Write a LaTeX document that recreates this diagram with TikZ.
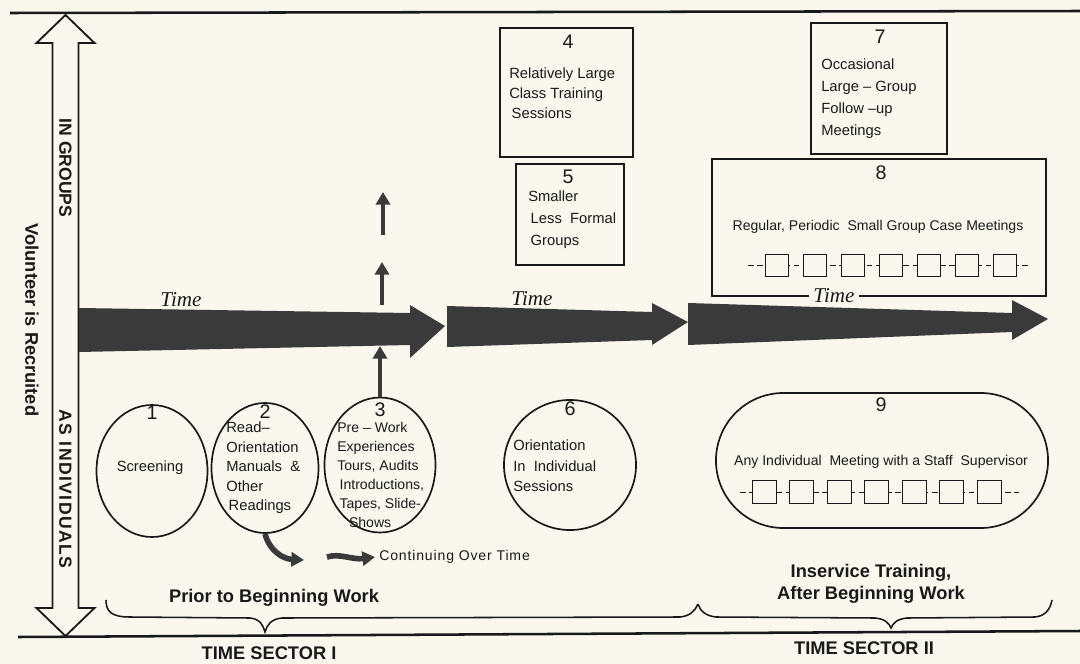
\documentclass[tikz,border=0pt]{standalone}
\usepackage{fontspec}
\setmainfont{Liberation Sans}
\newfontfamily\timefont{Liberation Serif}
\usetikzlibrary{shapes.geometric,shapes.misc,arrows.meta}
\definecolor{bg}{RGB}{250,248,238}
\definecolor{ink}{RGB}{25,25,25}
\definecolor{band}{RGB}{58,58,58}
\begin{document}
\begin{tikzpicture}[x=0.025cm,y=-0.025cm,
  boxst/.style={draw=ink,line width=1.3pt,rectangle,inner sep=0},
  oval/.style={draw=ink,line width=1.2pt,ellipse,inner sep=0},
  num/.style={font=\fontsize{14}{14}\selectfont,text=ink,inner sep=0},
  lbl/.style={font=\fontsize{10.5}{14}\selectfont,align=left,anchor=north west,inner sep=0,text=ink},
  ctr/.style={font=\fontsize{10}{12}\selectfont,inner sep=0,text=ink},
  big/.style={font=\bfseries\fontsize{13}{16}\selectfont,inner sep=0,text=ink,align=center},
  side/.style={font=\bfseries\fontsize{12.5}{14}\selectfont,inner sep=0,text=ink,rotate=-90},
  timelbl/.style={font=\timefont\itshape\fontsize{15}{15}\selectfont,inner sep=1pt,text=ink},
  sq/.style={draw=ink,line width=0.6pt,fill=bg,minimum width=0.6cm,minimum height=0.575cm,inner sep=0},
  chain/.style={draw=ink,line width=0.6pt,dash pattern=on 4pt off 2.5pt},
  upar/.style={draw=band,line width=3.5pt,-{Triangle[length=9pt,width=10pt]}},
  rule/.style={draw=ink,line width=1.8pt},
  brace/.style={draw=ink,line width=1.1pt}]
\fill[bg] (0,0) rectangle (1080,664);
\useasboundingbox (0,0) rectangle (1080,664);

% frame lines
\draw[rule] (10,13) -- (1080,11);
\draw[rule] (18,637) -- (1080,631);

% double arrow (group / individual axis)
\draw[draw=ink,line width=1.3pt,fill=bg] (65.5,15) -- (94.5,43) -- (78.5,43) -- (78.5,608) -- (94.5,608)
  -- (65.5,636) -- (36.5,608) -- (52.5,608) -- (52.5,43) -- (36.5,43) -- cycle;
\node[side] (ingroups) at (65.5,168) {IN GROUPS};
\node[side,font=\bfseries\fontsize{12.5}{14}\selectfont\addfontfeature{LetterSpace=8}] (asind) at (65.5,489) {AS INDIVIDUALS};
\node[side,font=\bfseries\fontsize{13}{14}\selectfont] (vol) at (32,320) {Volunteer is Recruited};

% time arrow
\fill[band] (79,308) -- (410,313) -- (410,305) -- (445,326) -- (410,358) -- (410,345) -- (79,352) -- cycle;
\fill[band] (447,306) -- (652,312) -- (652,303) -- (688,322) -- (652,345) -- (652,340) -- (447,347) -- cycle;
\fill[band] (688,303) -- (1012,313) -- (1012,300) -- (1048,319) -- (1012,340) -- (1012,332) -- (688,345) -- cycle;
\node[timelbl] (time1) at (181,300) {Time};
\node[timelbl] (time2) at (532,299) {Time};

% boxes (in groups)
\node[boxst,minimum width=3.325cm,minimum height=3.225cm] (b4) at (566.5,92.5) {};
\node[num] (n4) at (568,42) {4};
\node[lbl] (t4) at (509,68) {Relatively Large\\Class Training\\\,Sessions};

\node[boxst,minimum width=2.7cm,minimum height=2.525cm] (b5) at (570,214.5) {};
\node[num] (n5) at (568,177) {5};
\node[lbl,font=\fontsize{10.5}{15.5}\selectfont] (t5) at (528,191) {Smaller\\\,Less\ \ Formal\\\,Groups};

\node[boxst,minimum width=3.4cm,minimum height=3.275cm] (b7) at (879,88.5) {};
\node[num] (n7) at (880,37) {7};
\node[lbl,font=\fontsize{10.5}{15.5}\selectfont] (t7) at (821,59) {Occasional\\Large -- Group\\Follow --up\\Meetings};

\node[boxst,minimum width=8.35cm,minimum height=3.425cm] (b8) at (879,227.5) {};
\node[num] (n8) at (881,173) {8};
\node[ctr] (t8) at (878,227) {Regular, Periodic\ \ Small Group Case Meetings};
\draw[chain] (748,265) -- (1031,265);
\foreach \i in {0,...,6} {
  \node[sq,minimum width=0.575cm,minimum height=0.55cm] (q8\i) at (776.5+38*\i,265) {};
}
\node[timelbl,fill=bg,inner xsep=3pt] (time3) at (834,296) {Time};

% ovals (as individuals)
\node[oval,minimum width=2.775cm,minimum height=3.3cm] (e1) at (152,471) {};
\node[num] (n1) at (152,413) {1};
\node[ctr,font=\fontsize{10.5}{12}\selectfont] (t1) at (150,468) {Screening};

\node[oval,minimum width=2.675cm,minimum height=3.25cm] (e2) at (265,468) {};
\node[num] (n2) at (265,412) {2};
\node[lbl,font=\fontsize{10.5}{13.8}\selectfont] (t2) at (226,422) {Read--\\Orientation\\Manuals\ \ \&\\Other\\\,Readings};

\node[oval,minimum width=2.775cm,minimum height=3.375cm] (e3) at (380,465) {};
\node[num] (n3) at (380,410) {3};
\node[lbl,font=\fontsize{10}{13.5}\selectfont] (t3) at (337,422) {Pre -- Work\\Experiences\\Tours, Audits\\\,Introductions,\\\,Tapes, Slide-\\\ \ \ Shows};

\node[oval,minimum width=3.3cm,minimum height=3.25cm] (e6) at (570,465) {};
\node[num] (n6) at (570,409) {6};
\node[lbl,font=\fontsize{10.5}{14.5}\selectfont] (t6) at (513,440) {Orientation\\In\ \ Individual\\Sessions};

\node[draw=ink,line width=1.2pt,rounded rectangle,minimum width=8.3cm,minimum height=3.375cm,inner sep=0] (s9) at (882,460.5) {};
\node[num] (n9) at (881,405) {9};
\node[ctr] (t9) at (881,462) {Any Individual\ \ Meeting with a Staff\ \ Supervisor};
\draw[chain] (740,492) -- (1019,492);
\foreach \i in {0,...,6} {
  \node[sq] (q9\i) at (764+37.5*\i,492) {};
}

% small upward arrows
\coordinate (a1s) at (383,235);
\coordinate (a1e) at (383,192);
\coordinate (a2s) at (382,305);
\coordinate (a2e) at (382,262);
\coordinate (a3e) at (380,346);
\draw[upar] (a1s) -- (a1e);
\draw[upar] (a2s) -- (a2e);
\draw[upar] (e3.north) -- (a3e);

% continuing over time arrows
\coordinate (c1e) at (304,560);
\coordinate (c2s) at (327,557);
\coordinate (c2e) at (375,557);
\draw[upar,line width=4pt] (e2.south) .. controls (270,552) and (284,559) .. (c1e);
\draw[upar,line width=4pt] (c2s) .. controls (340,553) and (352,560) .. (c2e);
\node[ctr,anchor=west,font=\fontsize{10}{12}\selectfont\addfontfeature{LetterSpace=6}] (cont) at (379,557) {Continuing Over Time};

% braces
\draw[brace] (106,600) .. controls (106,612) and (112,617) .. (130,617) -- (250,618)
  .. controls (260,619) and (263,625) .. (265,632) .. controls (267,625) and (271,619) .. (282,618)
  -- (680,617) .. controls (690,616) and (695,611) .. (698,604);
\draw[brace] (698,604) .. controls (700,611) and (706,616) .. (716,617) -- (875,618)
  .. controls (885,619) and (889,623) .. (891,628) .. controls (893,623) and (897,619) .. (907,618)
  -- (1035,617) .. controls (1045,616) and (1050,610) .. (1052,600);

\node[big] (prior) at (274,598) {Prior to Beginning Work};
\node[big] (inserv) at (871,584) {Inservice Training,\\After Beginning Work};
\node[big] (ts1) at (269,653) {TIME SECTOR I};
\node[big] (ts2) at (864,648) {TIME SECTOR II};
\end{tikzpicture}
\end{document}
